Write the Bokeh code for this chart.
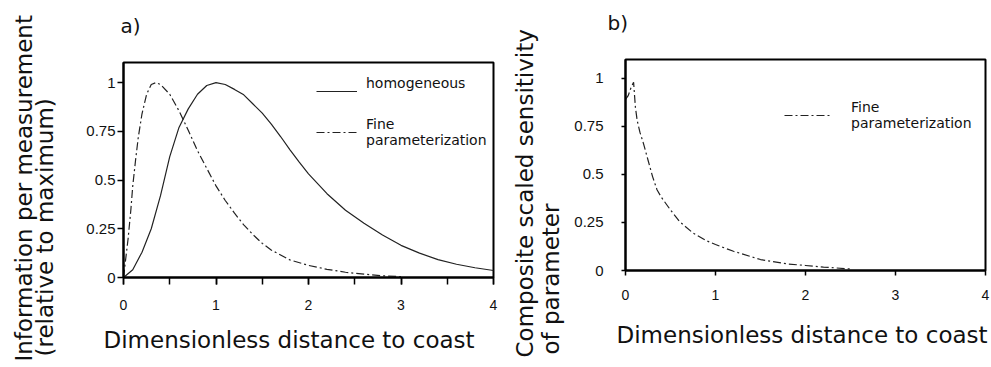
from bokeh.plotting import figure
from bokeh.layouts import row
from bokeh.models import FixedTicker, Legend, LegendItem, Title
from bokeh.embed import file_html
from bokeh.resources import INLINE

# ---------------- data ----------------
homog_x = [0, 0.1, 0.2, 0.3, 0.4, 0.5, 0.6, 0.7, 0.8, 0.9, 1.0, 1.1, 1.2, 1.3, 1.4, 1.5,
           1.6, 1.7, 1.8, 1.9, 2.0, 2.2, 2.4, 2.6, 2.8, 3.0, 3.2, 3.4, 3.6, 3.8, 4.0]
homog_y = [0, 0.04, 0.13, 0.25, 0.42, 0.62, 0.77, 0.865, 0.94, 0.985, 1.0, 0.99, 0.965, 0.937,
           0.89, 0.843, 0.785, 0.722, 0.655, 0.592, 0.532, 0.43, 0.345, 0.278, 0.218, 0.165,
           0.125, 0.092, 0.068, 0.05, 0.036]

fine_a_x = [0, 0.02, 0.05, 0.08, 0.1, 0.13, 0.16, 0.2, 0.25, 0.3, 0.35, 0.4, 0.5, 0.6, 0.7,
            0.8, 0.9, 1.0, 1.1, 1.2, 1.3, 1.4, 1.5, 1.6, 1.8, 2.0, 2.2, 2.4, 2.6, 2.8, 3.0]
fine_a_y = [0, 0.08, 0.2, 0.35, 0.47, 0.6, 0.72, 0.84, 0.94, 0.99, 1.0, 0.99, 0.94, 0.855,
            0.755, 0.65, 0.56, 0.47, 0.395, 0.33, 0.27, 0.22, 0.175, 0.14, 0.09, 0.062, 0.042,
            0.027, 0.017, 0.009, 0.004]

fine_b_x = [0, 0.03, 0.06, 0.09, 0.11, 0.13, 0.16, 0.2, 0.25, 0.3, 0.35, 0.4, 0.5, 0.6, 0.75,
            0.9, 1.0, 1.2, 1.5, 1.8, 2.0, 2.2, 2.5]
fine_b_y = [0.89, 0.91, 0.95, 0.98, 0.85, 0.78, 0.72, 0.66, 0.575, 0.49, 0.42, 0.38, 0.315,
            0.255, 0.195, 0.155, 0.135, 0.1, 0.057, 0.034, 0.026, 0.018, 0.008]

x_ticks = [0, 1, 2, 3, 4]
x_minor_a = [0, 0.5, 1, 1.5, 2, 2.5, 3, 3.5, 4]
y_ticks = [0, 0.25, 0.5, 0.75, 1]
y_tick_labels = ["0", "0.25", "0.5", "0.75", "1"]

label_font = "DejaVu Sans"
tick_font = "Liberation Sans"
ink = "#111111"
curve = "#222222"
dashdot = "8 3 2 3"


def style(p, minor, xt_out, xt_stand, yt_out, yt_stand):
    if "frame_align" in p.properties():
        p.frame_align = False
    p.xgrid.visible = False
    p.ygrid.visible = False
    p.outline_line_color = "black"
    p.outline_line_width = 2
    p.outline_line_alpha = 1
    p.background_fill_color = "white"
    p.border_fill_color = "white"

    xa = p.xaxis[0]
    xa.ticker = FixedTicker(ticks=x_ticks, minor_ticks=minor)
    xa.axis_line_width = 2
    xa.axis_line_color = "black"
    xa.major_tick_in = 0
    xa.major_tick_out = xt_out
    xa.minor_tick_in = 0
    xa.minor_tick_out = xt_out if minor else 0
    xa.major_tick_line_width = 1.5
    xa.minor_tick_line_width = 1.5
    xa.major_tick_line_color = "black"
    xa.minor_tick_line_color = "black"
    xa.major_label_text_font = tick_font
    xa.major_label_text_font_size = "14px"
    xa.major_label_text_color = ink
    xa.major_label_standoff = xt_stand

    ya = p.yaxis[0]
    ya.ticker = FixedTicker(ticks=y_ticks, minor_ticks=[])
    ya.major_label_overrides = {t: s for t, s in zip(y_ticks, y_tick_labels)}
    ya.axis_line_width = 2
    ya.axis_line_color = "black"
    ya.major_tick_in = 0
    ya.major_tick_out = yt_out
    ya.minor_tick_in = 0
    ya.minor_tick_out = 0
    ya.major_tick_line_width = 1.5
    ya.major_tick_line_color = "black"
    ya.major_label_text_font = tick_font
    ya.major_label_text_font_size = "15px"
    ya.major_label_text_color = ink
    ya.major_label_standoff = yt_stand


def set_panel_title(p, text, offset, standoff):
    t = p.title
    t.text = text + "\n"
    t.align = "left"
    t.vertical_align = "bottom"
    t.offset = offset
    t.standoff = standoff
    t.text_font = label_font
    t.text_font_size = "20px"
    t.text_font_style = "normal"
    t.text_color = ink


def side_title(p, text, side, offset, standoff):
    p.add_layout(Title(text=text, align="left", vertical_align="bottom",
                       offset=offset, standoff=standoff,
                       text_font=label_font, text_font_size="23px",
                       text_font_style="normal", text_color=ink), side)


def add_legend(p, label, r, loc, gw, standoff):
    lg = Legend(items=[LegendItem(label=label, renderers=[r])], location=loc,
                glyph_width=gw, glyph_height=20, label_standoff=standoff,
                padding=0, margin=0, spacing=0,
                border_line_alpha=0, background_fill_alpha=0,
                label_text_font=label_font, label_text_font_size="14px",
                label_text_line_height=1.25, label_text_color=ink)
    p.add_layout(lg, "center")


# ---------------- panel a ----------------
pa = figure(width=500, height=364, x_range=(0, 4), y_range=(0, 1.103),
            output_backend="svg", toolbar_location=None,
            min_border_left=123, min_border_right=7, min_border_top=62, min_border_bottom=87)
style(pa, x_minor_a, 7, 15, 6, 2)
ra1 = pa.line(homog_x, homog_y, line_color=curve, line_width=1.2)
ra2 = pa.line(fine_a_x, fine_a_y, line_color=curve, line_width=1.2, line_dash=dashdot)
add_legend(pa, "homogeneous\n ", ra1, (193, 170), 41, 9)
add_legend(pa, "Fine\nparameterization", ra2, (193, 129), 42, 8)
set_panel_title(pa, "a)", -3, 2)
side_title(pa, "(relative to maximum)", "left", -79, 52)
side_title(pa, "Information per measurement", "left", -84, -66)
side_title(pa, "Dimensionless distance to coast", "below", -20, 24)

# ---------------- panel b ----------------
pb = figure(width=490, height=364, x_range=(0, 4), y_range=(0, 1.098),
            output_backend="svg", toolbar_location=None,
            min_border_left=125, min_border_right=5, min_border_top=59, min_border_bottom=93)
style(pb, [], 5, 14, 4, 18)
rb1 = pb.line(fine_b_x, fine_b_y, line_color=curve, line_width=1.2, line_dash=dashdot)
add_legend(pb, "Fine\nparameterization", rb1, (159, 139), 48, 19)
set_panel_title(pb, "b)", -18, 2)
side_title(pb, "of parameter", "left", -84, 16)
side_title(pb, "Composite scaled sensitivity", "left", -87, -20)
side_title(pb, "Dimensionless distance to coast", "below", -9, 34)

layout = row(pa, pb)
open("out.html", "w").write(file_html(layout, INLINE))
